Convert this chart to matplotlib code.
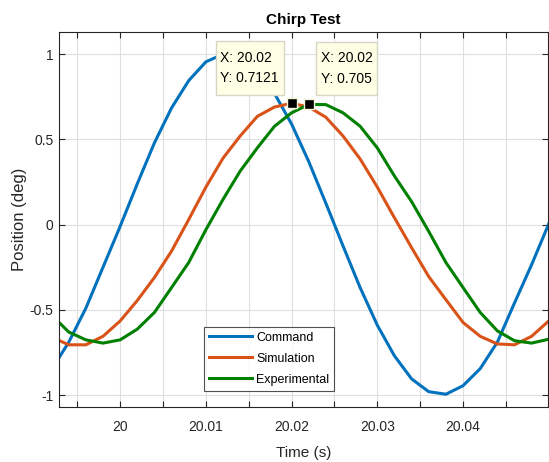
import matplotlib
matplotlib.use("Agg")
import matplotlib.pyplot as plt
from matplotlib.ticker import MultipleLocator, FixedLocator
from matplotlib.offsetbox import TextArea, VPacker, DrawingArea, AnnotationBbox

plt.rcParams['font.family'] = ['Liberation Sans', 'DejaVu Sans']

# sample times (s), 2 ms step
time_s = [19.992, 19.994, 19.996, 19.998, 20.000, 20.002, 20.004, 20.006,
          20.008, 20.010, 20.012, 20.014, 20.016, 20.018, 20.020, 20.022,
          20.024, 20.026, 20.028, 20.030, 20.032, 20.034, 20.036, 20.038,
          20.040, 20.042, 20.044, 20.046, 20.048, 20.050]

command = [-0.85, -0.69, -0.49, -0.25, -0.01, 0.24, 0.48, 0.685,
           0.845, 0.955, 1.0, 0.985, 0.90, 0.77, 0.59, 0.37,
           0.125, -0.125, -0.37, -0.59, -0.77, -0.905, -0.98, -0.995,
           -0.945, -0.845, -0.69, -0.46, -0.235, 0.005]

simulation = [-0.66, -0.705, -0.705, -0.655, -0.565, -0.445, -0.31, -0.155,
              0.03, 0.22, 0.39, 0.52, 0.635, 0.69, 0.7121, 0.69,
              0.63, 0.52, 0.385, 0.22, 0.04, -0.135, -0.305, -0.44,
              -0.574, -0.655, -0.70, -0.705, -0.655, -0.565]

experimental = [-0.53, -0.63, -0.676, -0.695, -0.676, -0.613, -0.515, -0.369,
                -0.222, -0.03, 0.148, 0.314, 0.45, 0.577, 0.656, 0.705,
                0.704, 0.656, 0.577, 0.45, 0.285, 0.135, -0.04, -0.222,
                -0.369, -0.515, -0.623, -0.681, -0.695, -0.672]

series_names = ["Command", "Simulation", "Experimental"]
series_colors = ["#0072BD", "#D95319", "#008000"]

# data-tip indices: (series, sample index)
tips = [(simulation, 14), (experimental, 15)]

x_ticks = [20.00, 20.01, 20.02, 20.03, 20.04]
x_tick_labels = ["20", "20.01", "20.02", "20.03", "20.04"]
y_ticks = [-1, -0.5, 0, 0.5, 1]
y_tick_labels = ["-1", "-0.5", "0", "0.5", "1"]

axis_col = "#262626"

fig = plt.figure(figsize=(5.49, 4.62), dpi=100)
ax = fig.add_axes([0.108, 0.119, 0.890, 0.8117])

for ys, name, col in zip([command, simulation, experimental], series_names, series_colors):
    ax.plot(time_s, ys, color=col, lw=2.2, label=name, solid_joinstyle='miter')

ax.set_xlim(19.9929, 20.0499)
ax.set_ylim(-1.07, 1.13)

ax.xaxis.set_major_locator(FixedLocator(x_ticks))
ax.set_xticklabels(x_tick_labels)
ax.xaxis.set_minor_locator(MultipleLocator(0.005))
ax.yaxis.set_major_locator(FixedLocator(y_ticks))
ax.set_yticklabels(y_tick_labels)

ax.grid(True, which='major', color='#DFDFDF', lw=0.8)
ax.grid(True, which='minor', axis='x', color='#DFDFDF', lw=0.8)
ax.set_axisbelow(True)

ax.tick_params(axis='both', which='both', direction='in', top=True, right=True,
               length=4.5, width=0.8, colors=axis_col, labelsize=10)
ax.tick_params(axis='x', which='both', pad=9)
ax.tick_params(axis='y', which='both', pad=4)
for sp in ax.spines.values():
    sp.set_color(axis_col)
    sp.set_linewidth(0.8)

ax.set_xlabel("Time (s)", fontsize=11, color=axis_col, labelpad=9)
ax.set_ylabel("Position (deg)", fontsize=12, color=axis_col, labelpad=2)
ax.set_title("Chirp Test", fontsize=11, fontweight='bold', color='black', pad=6)

leg = ax.legend(loc='lower left', bbox_to_anchor=(0.296, 0.0427), borderaxespad=0,
                prop={'size': 9}, frameon=True, fancybox=False, handlelength=3.45,
                handletextpad=0.3, labelspacing=0.72, borderpad=0.42)
leg.get_frame().set_edgecolor('#262626')
leg.get_frame().set_linewidth(0.8)

# data tips: marker plus a label box anchored next to it
placements = [((-12.6, 13.2), (1, 0)), ((11.9, 13.9), (0, 0))]
for (ys, i), (offset, corner) in zip(tips, placements):
    t, v = time_s[i], ys[i]
    ax.plot([t], [v], marker='s', ms=7.5, color='black', mec='#F4F4D8', mew=1.0,
            zorder=6, clip_on=False)
    label = TextArea(f"X: {t:.4g}\nY: {v:.4g}",
                     textprops=dict(fontsize=10, linespacing=1.6, multialignment='left',
                                    color='black'))
    content = VPacker(children=[DrawingArea(1, 3.3), label, DrawingArea(1, 3.3)],
                      pad=0, sep=0, align='left')
    tip = AnnotationBbox(content, (t, v), xybox=offset, boxcoords='offset pixels',
                         box_alignment=corner, frameon=True,
                         bboxprops=dict(boxstyle='square,pad=0.35', fc='#FFFFE6',
                                        ec='#D6D6C6', lw=1))
    tip.set_zorder(7)
    ax.add_artist(tip)

fig.savefig("out.png", dpi=100)
